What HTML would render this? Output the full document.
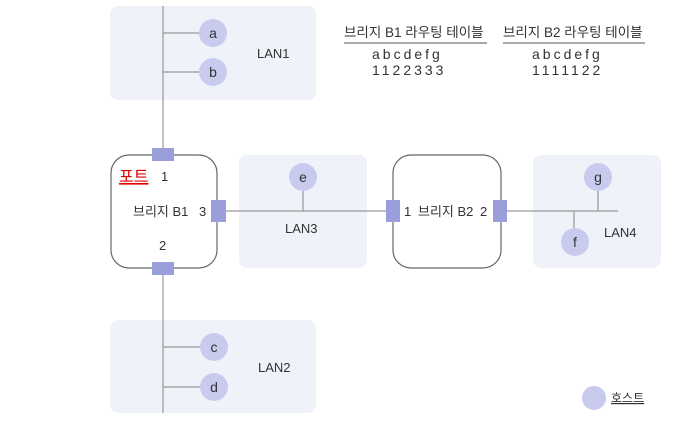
<!DOCTYPE html>
<html><head><meta charset="utf-8"><style>
html,body{margin:0;padding:0;background:#fff;}
svg{display:block;}
text{font-family:"Liberation Sans","Noto Sans CJK KR",sans-serif;fill:#333;}
</style></head><body>
<svg width="699" height="432" viewBox="0 0 699 432" xmlns="http://www.w3.org/2000/svg">
<rect x="110" y="6" width="206" height="94" rx="8" fill="#eff2f8"/>
<rect x="110" y="320" width="206" height="93" rx="8" fill="#eff2f8"/>
<rect x="239" y="155" width="128" height="113" rx="8" fill="#eff2f8"/>
<rect x="533" y="155" width="128" height="113" rx="8" fill="#eff2f8"/>
<rect x="111" y="155" width="106" height="113" rx="18" fill="#fff" stroke="#666" stroke-width="1.2"/>
<rect x="393" y="155" width="108" height="113" rx="18" fill="#fff" stroke="#666" stroke-width="1.2"/>
<g stroke="#999" stroke-width="1.2" fill="none">
<line x1="163" y1="6" x2="163" y2="150"/>
<line x1="163" y1="33" x2="200" y2="33"/>
<line x1="163" y1="72" x2="200" y2="72"/>
<line x1="163" y1="275" x2="163" y2="413"/>
<line x1="163" y1="347" x2="200" y2="347"/>
<line x1="163" y1="387" x2="200" y2="387"/>
<line x1="226" y1="211" x2="387" y2="211"/>
<line x1="303" y1="190" x2="303" y2="211"/>
<line x1="507" y1="211" x2="618" y2="211"/>
<line x1="598" y1="190" x2="598" y2="211"/>
<line x1="574" y1="211" x2="574" y2="228"/>
</g>
<g fill="#9a9fdc">
<rect x="152" y="148" width="22" height="13"/>
<rect x="152" y="262" width="22" height="13"/>
<rect x="211" y="200" width="15" height="22"/>
<rect x="386" y="200" width="14" height="22"/>
<rect x="493" y="200" width="14" height="22"/>
</g>
<g fill="#c8caee">
<circle cx="213" cy="33" r="14"/><circle cx="213" cy="72" r="14"/>
<circle cx="214" cy="347" r="14"/><circle cx="214" cy="387" r="14"/>
<circle cx="303" cy="177" r="14"/><circle cx="598" cy="177" r="14"/>
<circle cx="575" cy="242" r="14"/><circle cx="594" cy="398" r="12"/>
</g>
<g font-size="14" text-anchor="middle">
<text x="213" y="38">a</text><text x="213" y="77">b</text>
<text x="214" y="352">c</text><text x="214" y="392">d</text>
<text x="303" y="182">e</text><text x="598" y="182">g</text>
<text x="575" y="247">f</text>
</g>
<g font-size="13">
<text x="257" y="58">LAN1</text>
<text x="258" y="372">LAN2</text>
<text x="285" y="233">LAN3</text>
<text x="604" y="237">LAN4</text>
<text x="119" y="182" font-size="16" style="fill:#e00000" text-decoration="underline">포트</text>
<text x="161" y="181">1</text>
<text x="133" y="216">브리지 B1</text>
<text x="199" y="216">3</text>
<text x="159" y="250">2</text>
<text x="404" y="216">1</text>
<text x="418" y="216">브리지 B2</text>
<text x="480" y="216">2</text>
<text x="611" y="402" font-size="12" text-decoration="underline">호스트</text>
<text x="344" y="37" font-size="13.5">브리지 B1 라우팅 테이블</text>
<text x="503" y="37" font-size="13.5">브리지 B2 라우팅 테이블</text>
<text x="372" y="59" font-size="14" letter-spacing="3">abcdefg</text>
<text x="372" y="75" font-size="14" letter-spacing="3">1122333</text>
<text x="532" y="59" font-size="14" letter-spacing="3">abcdefg</text>
<text x="532" y="75" font-size="14" letter-spacing="3">1111122</text>
</g>
<line x1="344" y1="43" x2="487" y2="43" stroke="#555" stroke-width="1"/>
<line x1="503" y1="43" x2="645" y2="43" stroke="#555" stroke-width="1"/>
</svg>
</body></html>
